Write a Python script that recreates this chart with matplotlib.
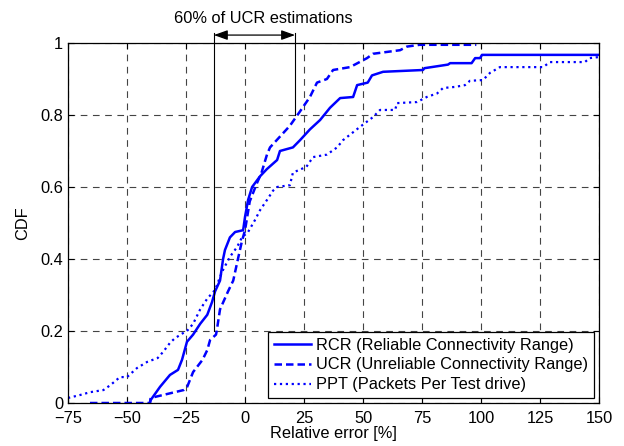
import numpy as np
import matplotlib.pyplot as plt

plt.rcParams['font.family'] = ['Liberation Sans', 'DejaVu Sans']
plt.rcParams['font.size'] = 11.8

# empirical CDF breakpoints of the relative error [%]
rcr_err = [-40.3, -40, -36, -31.8, -28.4, -26.7, -24.6, -22, -19, -16, -14, -12.7,
           -10.6, -9.3, -8.5, -6.4, -4.2, -0.8, 0, 1.3, 3, 6.4, 9.3, 13.6, 14.8,
           20.3, 23.3, 27.5, 31.8, 36, 40.3, 45.8, 47.5, 52, 53.8, 58.5, 75.4, 76,
           86, 86.9, 96, 97.5, 99.6, 100.4, 150]
rcr_cdf = [0, 0.008, 0.045, 0.078, 0.092, 0.12, 0.17, 0.19, 0.22, 0.245, 0.28, 0.31,
           0.34, 0.40, 0.425, 0.46, 0.475, 0.48, 0.517, 0.564, 0.6, 0.63, 0.65, 0.675, 0.70,
           0.71, 0.73, 0.76, 0.786, 0.82, 0.847, 0.85, 0.883, 0.89, 0.91, 0.92, 0.925, 0.93,
           0.94, 0.944, 0.944, 0.958, 0.958, 0.967, 0.967]

ucr_err = [-65.7, -40.3, -40, -33, -26, -24.5, -22, -18, -16, -14.8, -12.3, -12,
           -10.6, -7.2, -5, -3, -1.3, 0, 2, 5, 7, 9.3, 10.6, 14.8, 19, 23.3, 27.5,
           30.5, 34.7, 37.3, 44.5, 51.7, 54.2, 65.7, 68.6, 74, 98]
ucr_cdf = [0, 0, 0.014, 0.025, 0.036, 0.045, 0.086, 0.12, 0.147, 0.175, 0.19, 0.2,
           0.26, 0.31, 0.34, 0.40, 0.45, 0.48, 0.56, 0.61, 0.64, 0.69, 0.71, 0.74, 0.77, 0.81, 0.85,
           0.89, 0.90, 0.925, 0.933, 0.958, 0.97, 0.98, 0.99, 0.995, 0.995]

ppt_err = [-75, -70, -65.7, -60, -57, -53, -50, -45.8, -41.5, -37, -34.7, -31.8,
           -29.7, -26.3, -24.6, -22, -19, -16, -12.7, -10.6, -9.3, -6.4, -3.4, -1.3,
           1.3, 4.2, 6.4, 9.3, 11.9, 13.6, 19, 20.3, 26, 28.8, 34.7, 39, 41.5, 48.7,
           54.2, 57.2, 63.6, 64.4, 72.9, 77, 81.4, 83.9, 89, 93.2, 95.3, 100.8, 103.8,
           108, 126.3, 129.2, 144, 146, 150]
ppt_cdf = [0.014, 0.022, 0.03, 0.036, 0.05, 0.072, 0.072, 0.097, 0.114, 0.125, 0.142, 0.167,
           0.18, 0.194, 0.20, 0.22, 0.26, 0.29, 0.314, 0.35, 0.37, 0.406, 0.433, 0.46,
           0.475, 0.508, 0.536, 0.564, 0.59, 0.6, 0.605, 0.64, 0.656, 0.683, 0.69, 0.71, 0.73, 0.767,
           0.794, 0.814, 0.814, 0.833, 0.836, 0.85, 0.86, 0.875, 0.878, 0.883, 0.895, 0.897, 0.917,
           0.933, 0.933, 0.947, 0.947, 0.958, 0.961]

# UCR errors between the 20% and 80% quantiles
ucr_span = [-13.2, 21.2]
span_cdf = [0.2, 0.8]

x_ticks = [-75, -50, -25, 0, 25, 50, 75, 100, 125, 150]
y_ticks = [0, 0.2, 0.4, 0.6, 0.8, 1]
y_labels = ['0', '0.2', '0.4', '0.6', '0.8', '1']

fig = plt.figure(figsize=(6.24, 4.46), dpi=100)
ax = fig.add_axes([0.109, 0.0964, 0.851, 0.8072])

ax.plot(rcr_err, rcr_cdf, '-', color='#0000ff', lw=1.8,
        label='RCR (Reliable Connectivity Range)')
ax.plot(ucr_err, ucr_cdf, '--', color='#0000ff', lw=1.8, dashes=(3, 1.6),
        label='UCR (Unreliable Connectivity Range)')
ax.plot(ppt_err, ppt_cdf, ':', color='#0000ff', lw=1.6,
        label='PPT (Packets Per Test drive)')

ax.set_xlim(-75, 150)
ax.set_ylim(0, 1)
ax.set_xticks(x_ticks)
ax.set_yticks(y_ticks)
ax.set_yticklabels(y_labels)
ax.tick_params(axis='x', pad=6)
ax.tick_params(direction='in', top=True, right=True, length=4, width=0.8)
ax.grid(True, color='#444444', linestyle=(0, (6, 5)), lw=0.8)
for s in ax.spines.values():
    s.set_linewidth(0.9)

ax.set_xlabel('Relative error [%]', labelpad=0)
ax.set_ylabel('CDF', labelpad=7)

# bracket around the central 60% of UCR estimates
top = 1.028
for xv, yv in zip(ucr_span, span_cdf):
    ax.plot([xv, xv], [yv, top], color='black', lw=0.8, clip_on=False)
ax.annotate('', xy=(ucr_span[0], 1.022), xytext=(ucr_span[1], 1.022),
            arrowprops=dict(arrowstyle='<|-|>,head_length=0.7,head_width=0.25',
                            color='black', lw=0.9, shrinkA=0, shrinkB=0),
            annotation_clip=False)
ax.text(7.8, 1.069, '60% of UCR estimations', ha='center', va='center')

leg = ax.legend(loc='lower right', fancybox=False, edgecolor='black',
                framealpha=1, handlelength=2.3, borderaxespad=0.3,
                labelspacing=0.3, handletextpad=0.3, borderpad=0.35)
leg.get_frame().set_linewidth(0.9)

fig.savefig('out.png', dpi=100)
